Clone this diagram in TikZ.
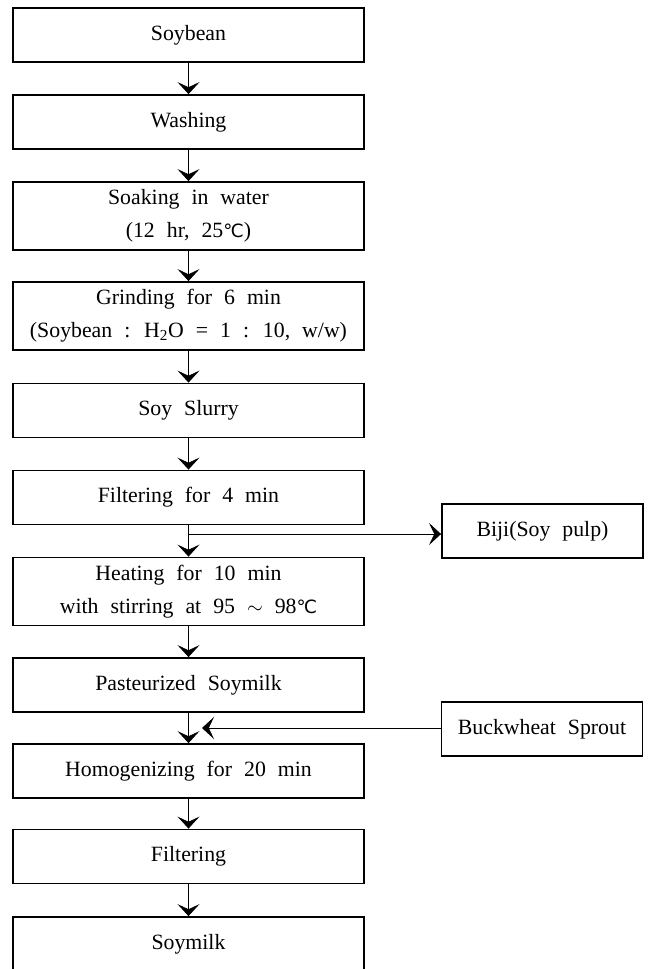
\documentclass[tikz,border=0pt]{standalone}
\usepackage{fontspec}
\setmainfont[WordSpace=2.2]{Liberation Serif}
\newfontfamily\degfont{DejaVu Sans}
\usepackage{tikz}
\usetikzlibrary{arrows.meta}
\newcommand\stepW{8.775cm}
\newcommand\sideW{5.025cm}
\newcommand\oneH{1.35cm}
\newcommand\twoH{1.7cm}
\newcommand\degC{{\degfont\fontsize{13}{13}\selectfont ℃}}
\tikzset{
    procbox/.style={draw, line width=1.3pt, minimum width=\stepW, minimum height=\oneH,
        inner sep=0pt, align=center, font=\fontsize{15.5}{23.5}\selectfont},
    sidebox/.style={procbox, minimum width=\sideW},
    flow/.style={-{Stealth[length=3mm,width=5.5mm,inset=1.3mm]}, line width=0.5pt}
}

\begin{document}
\begin{tikzpicture}[x=0.025cm, y=-0.025cm]
    \useasboundingbox (0,0) rectangle (647,969);

    % main line
    \node[procbox] (soy) at (188.5,35) {Soybean};
    \node[procbox] (wash) at (188.5,122) {Washing};
    \node[procbox, minimum height=\twoH] (soak) at (188.5,216) {Soaking in water\\(12 hr, 25\degC)};
    \node[procbox, minimum height=\twoH] (grind) at (188.5,316) {Grinding for 6 min\\(Soybean : H\textsubscript{2}O = 1 : 10, w/w)};
    \node[procbox] (slurry) at (188.5,410.5) {Soy Slurry};
    \node[procbox] (filt) at (188.5,497.5) {Filtering for 4 min};
    \node[procbox, minimum height=\twoH] (heat) at (188.5,591.5) {Heating for 10 min\\with stirring at 95 $\sim$ 98\degC};
    \node[procbox] (past) at (188.5,685) {Pasteurized Soymilk};
    \node[procbox] (homog) at (188.5,771) {Homogenizing for 20 min};
    \node[procbox] (filt2) at (188.5,856.5) {Filtering};
    \node[procbox] (milk) at (188.5,944) {Soymilk};

    % side boxes
    \node[sidebox] (biji) at (542.5,531) {Biji(Soy pulp)};
    \node[sidebox] (buck) at (542,729) {Buckwheat Sprout};

    \coordinate (split) at (188.5,534);
    \coordinate (join) at (202,728);

    \draw[flow] (soy) -- (wash);
    \draw[flow] (wash) -- (soak);
    \draw[flow] (soak) -- (grind);
    \draw[flow] (grind) -- (slurry);
    \draw[flow] (slurry) -- (filt);
    \draw[flow] (filt) -- (heat);
    \draw[flow] (heat) -- (past);
    \draw[flow] (past) -- (homog);
    \draw[flow] (homog) -- (filt2);
    \draw[flow] (filt2) -- (milk);

    \draw[flow] (split) -- (biji.west |- split);
    \draw[flow] (buck.west |- join) -- (join);
\end{tikzpicture}
\end{document}
